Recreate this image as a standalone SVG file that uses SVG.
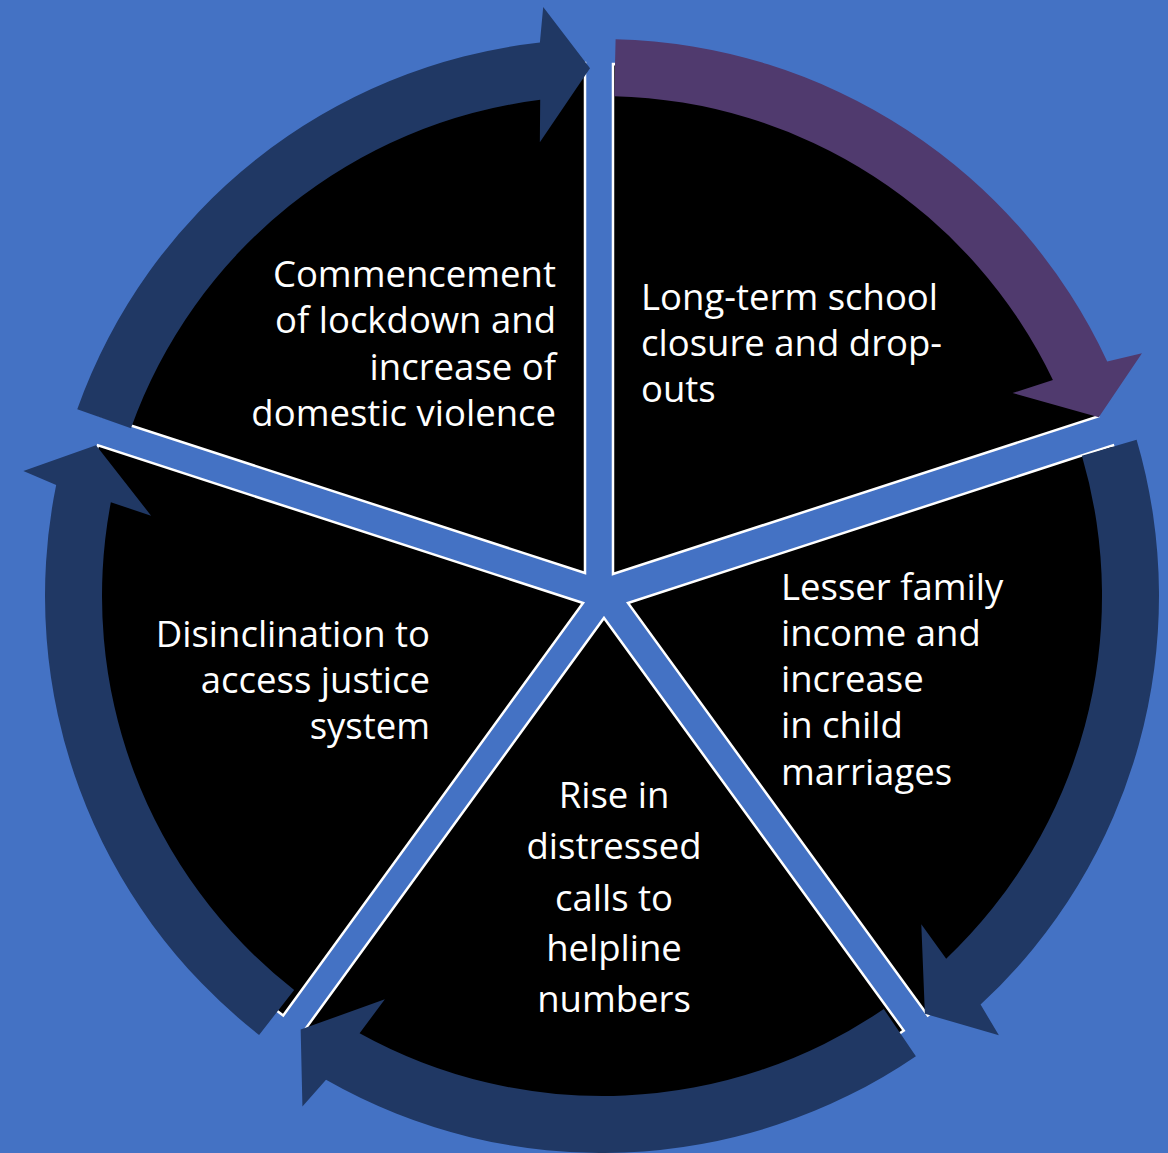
<svg xmlns="http://www.w3.org/2000/svg" width="1168" height="1153" viewBox="0 0 1168 1153">
<style>
.slice{fill:#000000;stroke:#FFFFFF;stroke-width:2.5;stroke-linejoin:miter}
.arr{fill:#203864}
.arrp{fill:#503A6E}
.t{font-family:"Open Sans","Noto Sans","Liberation Sans",sans-serif;font-size:36.5px;fill:#FFFFFF}
.r{text-anchor:end}
.c{text-anchor:middle}
</style>
<rect x="0" y="0" width="1168" height="1153" fill="#4472C4"/>
<g id="slice-tr">
<path class="slice" d="M613,574 L613,64 A510,510 0 0 1 1098.0,416.4 Z"/>
<text class="t" x="641" y="310">Long-term school</text>
<text class="t" x="641" y="356">closure and drop-</text>
<text class="t" x="641" y="402">outs</text>
</g>
<g id="slice-r">
<path class="slice" d="M628,603 L1113.0,445.4 A510,510 0 0 1 927.8,1015.6 Z"/>
<text class="t" x="781" y="600">Lesser family</text>
<text class="t" x="781" y="646">income and</text>
<text class="t" x="781" y="692">increase</text>
<text class="t" x="781" y="738">in child</text>
<text class="t" x="781" y="785">marriages</text>
</g>
<g id="slice-b">
<path class="slice" d="M604,618 L903.8,1030.6 A510,510 0 0 1 304.2,1030.6 Z"/>
<text class="t c" x="614" y="808">Rise in</text>
<text class="t c" x="614" y="859">distressed</text>
<text class="t c" x="614" y="911">calls to</text>
<text class="t c" x="614" y="961">helpline</text>
<text class="t c" x="614" y="1012">numbers</text>
</g>
<g id="slice-l">
<path class="slice" d="M583,603 L283.2,1015.6 A510,510 0 0 1 98.0,445.4 Z"/>
<text class="t r" x="430" y="647">Disinclination to</text>
<text class="t r" x="430" y="693">access justice</text>
<text class="t r" x="430" y="739">system</text>
</g>
<g id="slice-tl">
<path class="slice" d="M585,573 L100.0,415.4 A510,510 0 0 1 585,63 Z"/>
<text class="t r" x="556" y="287">Commencement</text>
<text class="t r" x="556" y="333">of lockdown and</text>
<text class="t r" x="556" y="380">increase of</text>
<text class="t r" x="556" y="426">domestic violence</text>
</g>
<g id="connectors">
<path class="arrp" d="M615.61,39.17 A557,557 0 0 1 1107.22,361.48 L1141.97,353.33 L1098.78,417.15 L1012.59,393.07 L1052.92,379.95 A500,500 0 0 0 614.22,96.15 Z"/>
<path class="arr" d="M1136.61,439.67 A557,557 0 0 1 980.57,1004.58 L998.89,1035.25 L924.89,1013.76 L921.30,924.34 L946.18,958.69 A500,500 0 0 0 1081.91,455.66 Z"/>
<path class="arr" d="M915.89,1056.14 A557,557 0 0 1 326.03,1079.83 L302.43,1106.61 L300.67,1029.57 L384.87,999.26 L359.59,1033.31 A500,500 0 0 0 883.77,1009.05 Z"/>
<path class="arr" d="M259.08,1034.92 A557,557 0 0 1 56.18,484.95 L23.37,470.90 L96.01,445.16 L151.10,515.68 L110.85,502.31 A500,500 0 0 0 294.17,990.01 Z"/>
<path class="arr" d="M77.27,409.15 A557,557 0 0 1 539.91,42.47 L543.20,6.92 L590.02,68.14 L539.84,142.24 L540.20,99.83 A500,500 0 0 0 130.97,428.27 Z"/>
</g>
</svg>
